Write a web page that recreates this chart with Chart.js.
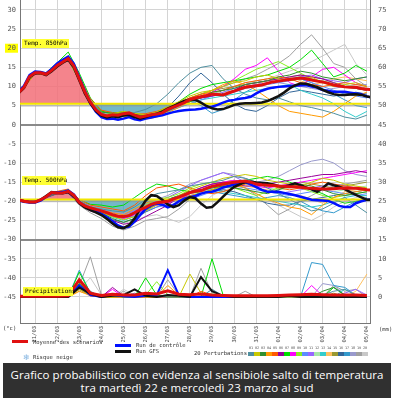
<!DOCTYPE html>
<html>
<head>
<meta charset="utf-8">
<script src="https://cdn.jsdelivr.net/npm/chart.js@4.4.0/dist/chart.umd.min.js"></script>
<style>
  body { margin:0; background:#fff; }
  #wrap { position:relative; width:394px; height:400px; }
  #titolo { position:absolute; left:3px; top:363px; width:388px; height:35px; background:#303030; color:#fff;
    font-family:"Open Sans"; font-size:11.5px; line-height:13px; text-align:center; padding-top:5px; box-sizing:border-box; white-space:nowrap; }
</style>
</head>
<body>
<div id="wrap">
  <canvas id="canvas1" width="394" height="400"></canvas>
  <div id="titolo"><span id="l1">Grafico probabilistico con evidenza al sensibiole salto di temperatura</span><br><span id="l2">tra martedì 22 e mercoledì 23 marzo al sud</span></div>
</div>
<script>
// fechas (eje x, un tick por dia)
var fechas = ["21/03","22/03","23/03","24/03","25/03","26/03","27/03","28/03","29/03","30/03","31/03","01/04","02/04","03/04","04/04","05/04"];
var ticksSx = [30,25,20,15,10,5,0,-5,-10,-15,-20,-25,-30,-35,-40,-45];
var ticksDx = [75,70,65,60,55,50,45,40,35,30,25,20,15,10,5,0];

// series cada 6 h desde 20/03 06z
var mean850 = [8.4,9.8,12.6,13.6,13.6,13.2,14.2,15.5,16.4,17.3,15.4,12.0,8.6,5.9,3.9,2.7,2.3,2.6,2.5,2.9,3.1,2.5,2.0,2.3,2.6,2.8,3.1,4.0,4.6,5.2,5.8,6.6,7.0,7.3,7.6,8.0,7.9,7.8,8.3,8.8,9.3,9.8,10.0,10.2,10.4,10.8,11.2,11.4,11.6,11.8,12.0,12.2,12.0,11.7,11.4,11.2,10.8,10.4,10.1,9.9,9.8,9.8,9.5,9.3,9.1];
var ctrl850 = [8.6,10.2,13.0,13.9,13.8,13.4,14.6,16.0,17.0,17.8,16.0,12.4,8.8,5.6,3.4,2.0,1.5,1.6,1.3,1.6,2.0,1.4,1.2,1.6,1.9,2.2,2.5,2.9,3.3,3.6,3.8,3.9,4.0,4.2,4.5,4.7,5.2,5.8,6.3,6.5,6.8,7.0,7.3,8.2,8.9,9.4,9.7,9.9,10.0,10.1,10.2,10.3,10.4,10.0,9.7,9.1,8.8,8.6,8.6,8.6,8.4,8.2,8.0,7.4,7.0];
var gfs850 = [8.2,9.6,12.4,13.4,13.5,13.0,14.0,15.2,16.2,17.0,15.0,11.6,8.2,5.6,3.6,2.4,1.9,2.2,2.0,2.4,2.6,2.0,1.6,2.0,2.5,2.9,3.4,4.2,4.9,5.6,6.2,6.6,6.5,5.8,4.9,4.3,4.0,4.1,4.6,5.2,5.5,5.6,5.6,5.7,5.8,6.2,6.8,7.5,8.4,9.5,10.3,10.8,10.7,10.3,9.8,9.1,8.5,8.0,7.8,7.8,7.9,8.0,7.8,7.4,7.1];
var mean500 = [-19.6,-20.0,-20.2,-20.2,-19.6,-18.8,-17.7,-17.8,-17.8,-17.4,-18.4,-20.3,-21.2,-21.7,-22.1,-22.5,-23.0,-23.5,-23.9,-24.0,-23.7,-23.0,-22.2,-21.6,-20.8,-20.4,-20.2,-20.0,-19.4,-18.9,-18.3,-17.7,-17.4,-17.2,-16.6,-16.1,-15.8,-15.5,-15.2,-15.0,-14.8,-14.7,-15.0,-15.5,-15.7,-15.8,-15.9,-16.0,-16.1,-16.2,-16.2,-16.3,-16.5,-16.6,-16.7,-16.8,-16.8,-16.7,-16.6,-16.6,-16.6,-16.6,-16.7,-17.0,-17.1];
var ctrl500 = [-19.7,-20.1,-20.3,-20.3,-19.8,-18.9,-17.8,-17.7,-17.6,-17.2,-18.2,-20.2,-21.4,-22.0,-22.6,-23.3,-24.2,-25.2,-26.3,-26.9,-26.6,-25.3,-23.6,-22.0,-21.0,-20.6,-20.9,-21.6,-21.0,-20.0,-19.3,-18.9,-18.6,-18.0,-17.6,-17.5,-17.0,-16.4,-16.0,-15.6,-15.2,-15.0,-15.6,-16.3,-17.0,-17.5,-17.5,-17.5,-17.8,-18.1,-18.4,-18.8,-19.2,-19.6,-19.7,-19.8,-19.9,-20.5,-21.2,-21.5,-21.5,-20.5,-20.0,-19.6,-19.5];
var gfs500 = [-19.6,-20.0,-20.2,-20.2,-19.6,-18.6,-17.6,-17.8,-17.9,-17.6,-18.6,-20.5,-21.6,-22.3,-22.9,-23.6,-24.6,-25.8,-26.8,-27.0,-26.2,-24.5,-22.0,-19.8,-18.4,-18.6,-19.6,-20.8,-21.5,-21.0,-19.8,-18.9,-19.2,-20.6,-21.7,-21.5,-20.2,-18.8,-17.4,-16.2,-15.6,-15.0,-14.9,-15.1,-15.2,-15.3,-15.6,-16.0,-16.2,-15.8,-15.3,-15.8,-16.4,-16.9,-17.5,-16.5,-15.3,-15.8,-16.2,-16.8,-17.6,-18.3,-19.0,-19.6,-19.6];

// series cada 12 h desde 20/03 00z (mm)
var meanPr = [0.2,0.2,0.2,0.2,0.2,0.3,4.5,1.0,0.4,0.7,0.5,0.5,1.0,0.8,1.6,0.7,0.6,0.8,0.5,0.4,0.3,0.3,0.3,0.3,0.4,0.5,0.6,0.7,0.6,0.5,0.5,0.5,0.4];
var ctrlPr = [0,0,0,0,0,0,3.0,0.5,0,0.5,0.2,0,0.3,0.5,7.0,0.5,0,0,0,0,0,0,0,0,0.3,0.5,0.2,0,0,0.2,0,0,0];
var gfsPr = [0,0,0,0,0,0,2.5,0.8,0,0.3,0.5,2.0,0.3,0,0.5,0.3,0,5.2,1.5,0.3,0,0,0,0,0,0.3,0,0,0,0,0,0,0];

var pert850 = [
  [7.6,10.0,13.9,13.5,15.9,17.9,12.8,6.5,3.0,2.1,2.5,3.2,4.0,5.5,8.0,11.0,13.5,15.0,15.5,12.0,9.5,8.0,7.0,6.5,7.0,6.0,5.0,4.5,3.8,3.0,2.0,1.5,2.5],
  [7.4,9.7,13.5,13.0,15.4,17.0,11.6,5.7,2.5,2.9,3.5,3.0,2.6,3.3,4.8,6.0,7.5,8.5,9.0,10.0,11.0,11.5,12.5,13.0,12.0,11.5,12.0,12.5,11.0,10.0,10.5,11.0,10.0],
  [7.6,9.9,13.7,13.3,15.6,17.2,12.2,6.2,3.3,3.0,3.4,2.8,2.0,2.4,3.6,5.0,6.0,7.0,8.5,9.0,9.5,10.5,11.0,11.5,12.5,13.0,14.0,13.5,12.5,12.0,11.5,12.0,12.5],
  [7.5,9.8,13.6,13.1,15.3,17.1,11.8,5.5,2.2,2.4,2.2,1.8,1.5,2.0,3.2,4.5,6.0,7.5,9.0,10.5,11.5,10.5,9.0,7.0,5.0,3.5,3.0,2.5,2.0,3.5,5.5,7.5,8.5],
  [7.3,9.6,13.4,13.0,15.3,17.5,12.5,6.8,3.8,3.2,3.0,2.7,2.9,3.5,4.5,5.8,7.0,8.0,8.5,9.0,10.0,11.0,11.5,12.0,12.5,12.0,11.0,10.5,10.0,10.5,11.0,10.5,10.0],
  [7.5,9.9,13.8,13.4,15.7,17.6,12.4,6.0,2.6,2.4,2.9,2.4,2.2,2.7,3.8,4.9,6.2,7.0,7.5,8.0,9.0,10.5,11.0,11.5,12.0,12.5,13.0,12.5,12.0,11.0,10.0,9.5,9.0],
  [7.7,10.1,14.0,13.6,16.2,19.0,13.5,7.0,3.6,2.8,3.0,2.6,2.4,3.0,4.5,6.0,8.0,9.5,10.5,11.0,11.5,12.0,12.5,13.0,14.0,15.0,17.0,19.5,16.0,12.5,13.5,15.5,14.0],
  [7.5,9.8,13.6,13.2,15.5,17.4,12.1,5.8,2.4,2.2,2.7,2.3,2.0,2.5,3.7,5.0,6.5,7.5,8.5,10.0,12.0,14.5,15.5,17.5,14.0,11.0,10.0,12.5,14.5,15.0,13.0,11.0,10.0],
  [7.6,9.9,13.7,13.4,15.8,17.8,12.9,6.9,3.5,3.1,3.3,2.9,2.7,3.2,4.4,5.6,7.0,8.0,9.0,10.0,11.5,13.0,14.5,15.5,16.5,15.0,13.5,12.0,11.0,10.5,10.0,9.5,9.0],
  [7.4,9.7,13.5,13.1,15.4,17.2,11.9,5.6,2.3,2.1,2.5,2.1,1.9,2.5,3.5,4.6,5.5,6.5,7.5,8.0,8.5,9.5,10.0,10.5,11.0,11.5,12.0,11.0,10.0,9.0,8.0,7.5,7.0],
  [7.5,9.9,13.7,13.3,15.6,17.3,12.2,6.0,2.8,2.7,3.0,2.6,2.4,2.9,4.2,5.3,6.5,7.0,7.5,8.5,9.5,10.0,10.5,11.0,11.5,12.0,12.5,13.0,12.0,11.5,11.0,12.0,12.5],
  [7.6,10.0,13.8,13.4,15.7,17.5,12.4,6.3,3.1,2.9,3.2,2.8,2.5,3.0,4.1,5.3,6.5,7.5,8.0,8.5,9.5,10.5,11.5,12.0,12.0,12.5,12.5,12.0,11.5,11.0,10.5,10.0,9.5],
  [7.4,9.7,13.5,13.0,15.3,17.0,11.5,5.3,2.0,1.9,2.3,2.0,1.8,2.3,3.4,4.5,5.5,6.5,7.0,7.5,8.0,8.5,9.0,9.5,10.0,10.5,9.0,8.0,7.0,5.5,3.5,2.0,3.5],
  [7.5,9.8,13.6,13.2,15.5,17.3,12.0,5.9,2.7,2.6,2.9,2.5,2.3,2.8,4.0,5.2,6.5,7.5,8.0,8.5,9.0,10.0,10.5,11.5,12.0,12.5,11.5,10.5,11.0,12.0,12.5,12.0,11.5],
  [7.7,10.1,13.9,13.5,15.9,17.7,12.6,6.4,3.2,2.8,3.1,2.7,2.5,3.1,4.3,5.6,7.0,8.0,9.0,9.5,10.0,10.5,11.0,11.5,12.0,12.5,13.0,12.5,12.0,11.0,10.0,9.5,9.0],
  [7.5,9.8,13.6,13.2,15.4,17.1,11.8,5.7,2.5,2.3,2.6,2.2,2.0,2.6,4.5,7.5,11.0,13.5,11.0,8.0,5.5,4.0,3.5,5.0,7.0,8.5,9.0,8.5,8.0,7.5,8.0,8.5,8.0],
  [7.4,9.7,13.5,13.1,15.5,17.3,12.1,6.1,2.9,2.7,3.0,2.6,2.3,2.9,4.1,5.4,6.5,5.0,3.0,4.0,6.5,8.5,10.0,11.0,11.5,12.0,12.0,11.0,9.5,8.0,6.5,5.0,4.5],
  [7.6,9.9,13.7,13.3,15.6,17.4,12.2,6.0,2.6,2.5,2.8,2.4,2.2,2.7,3.9,5.1,6.0,7.0,8.0,9.0,10.0,10.5,11.0,11.5,11.0,10.5,10.0,9.5,9.0,9.5,10.0,10.5,10.5],
  [7.5,9.8,13.6,13.2,15.6,17.5,12.3,6.2,2.9,2.8,3.1,2.7,2.5,3.0,4.2,5.4,7.0,8.0,9.0,10.0,11.0,12.0,13.0,14.5,16.0,18.0,21.0,23.5,20.0,16.0,15.0,12.0,10.0],
  [7.5,9.8,13.6,13.2,15.5,17.2,12.0,5.8,2.6,2.5,2.8,2.4,2.2,2.7,3.9,5.1,6.5,7.5,8.5,9.0,10.0,11.0,11.5,12.0,13.0,14.0,15.0,16.5,18.0,19.5,21.0,16.0,13.0]
];

var pert500 = [
  [-19.4,-20.0,-20.3,-18.9,-17.6,-17.0,-19.8,-21.5,-22.0,-22.5,-22.8,-21.5,-19.5,-18.0,-17.5,-17.0,-16.0,-15.5,-15.0,-14.5,-13.5,-14.0,-15.0,-16.5,-18.0,-19.5,-21.0,-22.5,-22.0,-20.5,-19.0,-21.0,-23.0],
  [-19.5,-20.1,-20.2,-18.7,-17.5,-17.2,-20.0,-21.8,-22.8,-24.0,-24.8,-24.0,-22.5,-21.0,-20.0,-18.5,-17.0,-16.0,-15.0,-14.0,-13.5,-13.0,-13.5,-14.5,-15.0,-15.5,-16.0,-15.0,-14.0,-14.5,-15.5,-16.0,-16.5],
  [-19.3,-19.9,-20.1,-18.8,-17.9,-17.6,-20.6,-22.0,-23.0,-24.5,-25.5,-24.5,-22.5,-20.5,-19.5,-18.5,-17.5,-17.0,-16.5,-16.0,-16.5,-17.0,-17.5,-18.0,-17.0,-16.0,-15.5,-16.0,-17.0,-18.0,-18.5,-18.0,-17.5],
  [-19.4,-20.0,-20.2,-18.9,-17.8,-17.5,-20.4,-21.6,-22.3,-23.0,-23.5,-22.0,-20.5,-19.5,-20.0,-19.5,-18.5,-18.0,-17.0,-16.0,-15.5,-16.5,-18.0,-19.5,-20.5,-21.5,-22.0,-23.5,-21.0,-19.0,-18.0,-17.5,-17.0],
  [-19.5,-20.0,-20.2,-18.6,-17.4,-16.8,-19.5,-21.0,-21.5,-22.0,-22.5,-21.0,-18.5,-16.5,-16.0,-15.5,-16.5,-17.5,-18.0,-17.5,-16.5,-15.5,-15.0,-15.5,-16.5,-17.0,-16.5,-15.5,-15.0,-15.5,-16.0,-16.5,-17.0],
  [-19.4,-20.0,-20.3,-19.0,-18.0,-17.8,-20.8,-22.5,-23.5,-25.0,-26.0,-25.5,-24.0,-22.5,-21.0,-19.0,-17.5,-16.5,-15.5,-15.0,-15.5,-16.0,-16.0,-15.5,-15.0,-14.5,-14.0,-13.5,-13.0,-13.0,-12.5,-12.0,-12.5],
  [-19.3,-19.9,-20.1,-18.7,-17.6,-17.0,-19.6,-20.8,-21.0,-21.5,-21.0,-19.0,-17.0,-15.5,-16.0,-17.0,-17.5,-18.0,-17.0,-16.0,-15.0,-14.5,-14.0,-13.5,-14.0,-15.0,-16.0,-17.0,-18.0,-19.5,-20.5,-20.0,-19.5],
  [-19.4,-20.0,-20.2,-18.8,-17.7,-17.3,-20.2,-21.7,-22.6,-23.8,-24.5,-23.5,-22.0,-21.0,-20.5,-19.5,-18.0,-16.5,-15.5,-15.0,-14.5,-15.0,-16.0,-16.5,-16.0,-15.5,-15.0,-14.5,-14.0,-13.5,-13.0,-12.5,-12.0],
  [-19.5,-20.1,-20.3,-19.0,-17.9,-17.6,-20.5,-22.0,-22.8,-24.0,-24.5,-23.0,-21.0,-19.5,-19.0,-18.0,-16.5,-15.5,-15.0,-15.5,-16.5,-17.5,-18.5,-17.5,-16.5,-16.0,-16.5,-17.5,-18.5,-19.0,-18.5,-18.0,-17.5],
  [-19.4,-20.0,-20.2,-18.8,-17.8,-17.4,-20.3,-21.8,-22.7,-23.8,-24.5,-23.8,-22.5,-21.5,-21.0,-20.5,-19.5,-18.5,-17.5,-16.5,-16.0,-16.5,-17.0,-17.5,-18.0,-18.5,-18.0,-17.5,-17.0,-17.5,-18.0,-18.5,-18.0],
  [-19.3,-19.9,-20.2,-18.8,-17.7,-17.2,-20.0,-21.5,-22.2,-23.0,-23.5,-22.5,-21.0,-20.0,-19.0,-17.5,-16.0,-14.5,-13.5,-12.5,-13.5,-15.0,-16.5,-17.5,-18.0,-17.5,-17.0,-16.5,-16.0,-15.5,-16.0,-16.5,-17.0],
  [-19.4,-20.0,-20.2,-18.9,-17.8,-17.4,-20.2,-21.6,-22.4,-23.4,-23.8,-22.8,-21.5,-20.5,-20.0,-19.0,-17.5,-16.5,-16.0,-15.5,-15.0,-15.5,-16.0,-16.5,-17.0,-16.5,-16.0,-16.5,-17.0,-17.5,-17.0,-16.5,-16.0],
  [-19.5,-20.1,-20.3,-18.9,-17.9,-17.5,-20.4,-21.9,-22.9,-24.2,-25.0,-24.0,-22.0,-20.5,-19.5,-18.5,-17.5,-17.0,-17.0,-17.5,-18.0,-18.5,-19.0,-19.5,-20.0,-20.5,-21.0,-21.5,-21.0,-20.0,-19.0,-18.5,-18.5],
  [-19.4,-20.0,-20.2,-18.8,-17.7,-17.3,-20.1,-21.6,-22.4,-23.3,-23.8,-22.8,-21.3,-20.2,-19.8,-19.0,-18.0,-17.5,-17.0,-16.5,-16.0,-16.0,-16.5,-17.0,-17.5,-18.0,-18.5,-19.5,-20.5,-19.0,-17.5,-17.0,-16.5],
  [-19.4,-20.0,-20.2,-18.8,-17.8,-17.4,-20.3,-21.7,-22.5,-23.5,-24.0,-23.0,-21.5,-20.5,-20.0,-19.0,-17.5,-16.5,-15.5,-15.0,-14.5,-15.0,-15.5,-16.0,-16.0,-15.5,-15.0,-15.5,-16.0,-16.5,-16.0,-15.5,-15.0],
  [-19.5,-20.1,-20.3,-19.0,-18.0,-17.7,-20.7,-22.3,-23.3,-24.8,-25.5,-24.5,-22.8,-21.5,-20.5,-19.5,-18.5,-18.0,-17.5,-17.0,-17.5,-18.5,-19.5,-20.5,-21.0,-21.0,-20.0,-19.5,-19.0,-18.5,-18.0,-17.5,-17.0],
  [-19.4,-20.0,-20.2,-18.8,-17.8,-17.4,-20.3,-21.8,-22.7,-23.8,-24.3,-23.5,-22.0,-21.0,-20.5,-19.5,-18.0,-17.5,-17.5,-18.0,-18.5,-19.0,-19.5,-19.0,-18.5,-19.0,-20.0,-21.5,-22.5,-23.0,-21.5,-20.0,-19.0],
  [-19.3,-19.9,-20.1,-18.7,-17.6,-17.1,-19.9,-21.3,-22.0,-22.8,-23.2,-22.2,-20.8,-19.5,-18.5,-17.0,-15.5,-14.5,-13.5,-12.5,-13.0,-14.0,-15.0,-14.5,-13.5,-12.0,-10.5,-9.5,-9.0,-10.0,-12.0,-13.0,-13.5],
  [-19.5,-20.1,-20.3,-19.1,-18.2,-18.0,-21.0,-23.0,-24.5,-26.5,-27.5,-26.5,-25.0,-24.5,-24.0,-22.0,-19.5,-17.5,-16.5,-16.0,-15.5,-16.5,-18.5,-21.0,-23.5,-22.0,-20.0,-18.5,-17.0,-16.0,-15.5,-15.0,-14.5],
  [-19.4,-20.0,-20.2,-18.9,-17.9,-17.6,-20.6,-22.2,-23.4,-25.0,-25.8,-25.0,-24.0,-23.5,-24.5,-25.5,-24.0,-21.0,-18.5,-17.0,-16.5,-17.0,-18.0,-19.5,-21.0,-22.5,-24.0,-25.0,-23.5,-21.5,-20.0,-19.0,-18.5]
];

var pertPr = [
  [0,0,0,0,0,0,4.5,1.5,0,0.5,0,0,0.5,0.3,0,0,0,0,2.0,0.3,0,0,0,0,0,0,0,0,0.5,1.5,2.0,0.5,0],
  [0,0,0,0,0,0,2.0,0.5,0,0,0.3,0,0,0,0,0,6.0,1.0,0,0,0,0,0,0,0,0,0,0,0,0,0,0,0],
  [0,0,0,0,0,0,3.5,0.8,0,0.5,0,0,1.0,0.5,0,0,0,0,0,0,0,0,0,0,0,0,0,0,1.5,2.5,0.5,0,0],
  [0,0,0,0,0,0,1.5,0.5,0,0,0,0.5,0,0,3.0,0.5,0,0,0,0,0,0,0,0,0,0,0,0,0,0,0,0,0],
  [0,0,0,0,0,0,2.5,0.3,0,0,0,0,0,0,0.5,0,0,1.5,0.5,0,0,0,0,0,0,0,0,0,0,0,0,0,0],
  [0,0,0,0,0,0,3.0,0.5,0,2.5,0.3,0,0,0,0,0,0,0,0,0,0,0,0,0,0,0,0,0.5,0,0,0,0,0],
  [0,0,0,0,0,0,6.5,1.0,0,0.5,0,0,5.0,0.5,0,0,0,0,10.0,0.5,0,0,0,0,0,0,0,0,0,2.5,0.5,0,0],
  [0,0,0,0,0,0,2.5,0.5,0,2.0,0,0,0,0,0,0,0,0,0,0,0,0,0,0,0,0,0,3.0,0.3,0,0,0,0],
  [0,0,0,0,0,0,4.0,0.5,0,0,0,0,0.5,4.0,0.5,0,0,0,0.5,0,0,0,0,0,0,0,0,0,0,0,0,0,0],
  [0,0,0,0,0,0,3.0,0.5,0,0,0,1.0,0,0,0,0,0,0,0,0,0,0,0,0,0,0,0.5,0,0,0,0,0,0],
  [0,0,0,0,0,0,2.0,0.3,0,0,0,0,0,0,0,0,0,0,0,0,0,0,0,0,0,0,0,0,0,0,1.0,2.0,0.5],
  [0,0,0,0,0,0,3.0,0.5,0,0,0,0,0,0,0,0,0,0,1.0,0,0,0,0,0,0,0,0,0,0,0,0,0,0],
  [0,0,0,0,0,0,2.5,0.5,0,0,0,0,0,0,0,0,0,0,0,0,0,0,0,0,0,0,0,0,0,0,2.0,0.5,0],
  [0,0,0,0,0,0,1.5,0.3,0,0,0,0,0,0,0,0,0,0,0,0,0,0,0,0,0,0,0,0,0,0,0,1.5,6.0],
  [0,0,0,0,0,0,2.0,0.3,0,0,0,0,0,0,0,0,0,0,0,0,0,0,0,0,0,0,0,0,0,1.0,0,0,0],
  [0,0,0,0,0,0,3.5,0.5,0,0,0,0,0,0,0,0,0,0,0,0,0,0,0,0,0,0,0,0,0,0,0,0,0],
  [0,0,0,0,0,0,7.0,1.0,0,0,0,0,0,0,0,0,0,0,0,0,0,0,0,0,0,0,0,9.0,8.5,3.0,2.5,0.5,0],
  [0,0,0,0,0,0,2.0,0.5,0,0,0,0,0,0,0,0,0,0,0.5,0,0,0,0,0,0,0,0,0,3.5,3.0,0.5,0,0],
  [0,0,0,0,0,0,3.0,10.5,0.5,0,1.5,0,0,0,4.5,0.5,0,7.5,1.0,0,0,1.5,0,0,0,0,0,0,0,3.0,1.5,2.0,0],
  [0,0,0,0,0,0,2.0,5.0,0.5,0,2.0,0.5,0,0.5,0,0,0,0,2.0,0,0,0,0,0,0,0,0,0,0,2.5,0.5,0,0]
];

// valores de referencia (linea amarilla)
var ref850 = 5.5;
var ref500 = -19.5;

const coloresPert = ['#4f8f9f','#c8c800','#2f8f2f','#ff9a00','#ff5a00','#990099','#00dd00','#ff00ff','#88ee22','#5c8cff',
                     '#9966ff','#a8e8a8','#33cccc','#ffc060','#999933','#336699','#3399cc','#9999cc','#a0a0a0','#c8c8c8'];

function puntos(arr, t0, paso) {
  return arr.map(function(v, i) { return {x: t0 + i * paso, y: v}; });
}
function linea(arr, t0, paso, color, ancho, orden, eje) {
  return { data: puntos(arr, t0, paso), borderColor: color, borderWidth: ancho, pointRadius: 0,
           fill: false, tension: 0, order: orden, yAxisID: eje || 'y' };
}
function relleno(arr, corte, ref) {
  return { data: puntos(arr.slice(0, corte), -0.75, 0.25), borderWidth: 0, pointRadius: 0, order: 20,
           fill: { target: { value: ref }, above: 'rgba(242,110,120,0.85)', below: 'rgba(70,160,182,0.75)' } };
}
function refLinea(v, color, ancho, orden) {
  return { data: [{x: -1, y: v}, {x: 16, y: v}], borderColor: color, borderWidth: ancho, pointRadius: 0, order: orden };
}

var datasets = [];
datasets.push(linea(mean850, -0.75, 0.25, '#e01010', 3, 0));
datasets.push(linea(gfs850, -0.75, 0.25, '#111111', 2.5, 1));
datasets.push(linea(ctrl850, -0.75, 0.25, '#0010ff', 2.5, 2));
datasets.push(linea(mean500, -0.75, 0.25, '#e01010', 3, 0));
datasets.push(linea(gfs500, -0.75, 0.25, '#111111', 2.5, 1));
datasets.push(linea(ctrl500, -0.75, 0.25, '#0010ff', 2.5, 2));
datasets.push(linea(meanPr, -1, 0.5, '#e01010', 3, 0, 'y2'));
datasets.push(linea(gfsPr, -1, 0.5, '#111111', 2, 1, 'y2'));
datasets.push(linea(ctrlPr, -1, 0.5, '#0010ff', 2, 2, 'y2'));
datasets.push(refLinea(ref850, '#f2e600', 2, 3));
datasets.push(refLinea(ref850 - 0.5, 'rgba(150,150,150,0.45)', 2, 4));
datasets.push(refLinea(ref500, '#f2e600', 2, 3));
datasets.push(refLinea(ref500 - 0.5, 'rgba(150,150,150,0.45)', 2, 4));
for (var i = 0; i < 20; i++) {
  datasets.push(linea(pert850[i], -1, 0.5, coloresPert[i], 1, 5));
  datasets.push(linea(pert500[i], -1, 0.5, coloresPert[i], 1, 5));
  datasets.push(linea(pertPr[i], -1, 0.5, coloresPert[i], 1, 5, 'y2'));
}
datasets.push(relleno(mean850, 30, ref850));
datasets.push(relleno(mean500, 29, ref500));

var yMin = -51.8, yMax = 32.6;

// etiquetas, leyenda y cajas amarillas
var decor = {
  id: 'decor',
  beforeDraw: function(chart) {
    var ctx = chart.ctx;
    var y20 = chart.scales.y.getPixelForValue(20);
    ctx.save();
    ctx.fillStyle = '#ffff00';
    ctx.fillRect(5, y20 - 4.5, 13, 9);
    ctx.restore();
  },
  afterDraw: function(chart) {
    var ctx = chart.ctx;
    ctx.save();
    function caja(txt, x, y, w) {
      ctx.fillStyle = '#ffff33';
      ctx.fillRect(x, y, w, 9);
      ctx.fillStyle = '#000';
      ctx.font = '6px "DejaVu Sans Mono"';
      ctx.textBaseline = 'middle';
      ctx.textAlign = 'left';
      ctx.fillText(txt, x + 2, y + 4.8);
    }
    caja('Temp. 850hPa', 22, 39, 47);
    caja('Temp. 500hPa', 22, 176, 44);
    caja('Précipitations', 23, 287, 50);

    ctx.font = '5.5px "DejaVu Sans Mono"';
    ctx.fillStyle = '#333';
    ctx.textBaseline = 'middle';
    ctx.fillText('(°c)', 3, 329);
    ctx.fillText('(mm)', 379, 330);

    ctx.fillStyle = '#e01010'; ctx.fillRect(12, 340, 16, 3);
    ctx.fillStyle = '#0010ff'; ctx.fillRect(115, 344, 16, 3);
    ctx.fillStyle = '#111';    ctx.fillRect(115, 350, 16, 3);
    ctx.fillStyle = '#333';
    ctx.fillText('Moyenne des scénarios', 33, 343);
    ctx.fillText('Run de contrôle', 136, 346);
    ctx.fillText('Run GFS', 136, 352);
    ctx.fillText('20 Perturbations', 194, 354);
    ctx.fillText('Risque neige', 33, 358);
    ctx.fillStyle = '#7fb2e0';
    ctx.font = '8px "DejaVu Sans"';
    ctx.fillText('\u2744', 23, 358);

    for (var k = 0; k < 20; k++) {
      ctx.fillStyle = coloresPert[k];
      ctx.fillRect(248 + k * 6, 352, 6, 4);
      ctx.fillStyle = '#555';
      ctx.font = '3.5px "DejaVu Sans Mono"';
      ctx.textAlign = 'center';
      ctx.fillText((k < 9 ? '0' : '') + (k + 1), 251 + k * 6, 348.5);
    }
    ctx.restore();
  }
};

var canvas1 = document.getElementById('canvas1');
var myChart = new Chart(canvas1, {
  type: 'line',
  data: { datasets: datasets },
  plugins: [decor],
  options: {
    responsive: false,
    animation: false,
    devicePixelRatio: 1,
    layout: { padding: { left: 0, right: 0, top: 0, bottom: 38 } },
    plugins: { legend: { display: false }, tooltip: { enabled: false } },
    scales: {
      x: {
        type: 'linear', min: -0.68, max: 15.14,
        afterBuildTicks: function(s) { s.ticks = fechas.map(function(f, i) { return {value: i}; }); },
        afterFit: function(s) { s.height = 39; s.paddingLeft = 0; s.paddingRight = 0; },
        ticks: { autoSkip: false, minRotation: 90, maxRotation: 90, padding: 3, color: '#444',
                 font: { family: 'DejaVu Sans Mono', size: 5.5 },
                 callback: function(v) { return fechas[v]; } },
        grid: { color: '#d4d4d4', drawTicks: false },
        border: { color: '#777' }
      },
      y: {
        position: 'left', min: yMin, max: yMax,
        afterBuildTicks: function(s) { s.ticks = ticksSx.map(function(v) { return {value: v}; }); },
        afterFit: function(s) { s.width = 20; s.paddingTop = 0; s.paddingBottom = 0; },
        ticks: { padding: 4, color: '#555', font: { family: 'DejaVu Sans Mono', size: 7 } },
        grid: { drawTicks: false,
                color: function(c) { return (c.tick && (c.tick.value === 0 || c.tick.value === -30)) ? '#8a8a8a' : '#d4d4d4'; },
                lineWidth: function(c) { return (c.tick && (c.tick.value === 0 || c.tick.value === -30)) ? 2 : 1; } },
        border: { color: '#777' }
      },
      y2: {
        position: 'right', min: yMin + 45, max: yMax + 45,
        afterBuildTicks: function(s) { s.ticks = ticksDx.map(function(v) { return {value: v}; }); },
        afterFit: function(s) { s.width = 24; s.paddingTop = 0; s.paddingBottom = 0; },
        ticks: { padding: 8, color: '#555', font: { family: 'DejaVu Sans Mono', size: 7 } },
        grid: { display: false, drawTicks: false },
        border: { color: '#777' }
      }
    }
  }
});

// ajusta el espaciado del titulo al ancho del original
var medida = document.createElement('canvas').getContext('2d');
medida.font = '11.5px "Open Sans"';
var l1 = document.getElementById('l1').textContent;
var ancho = medida.measureText(l1).width;
document.getElementById('titolo').style.letterSpacing = ((373 - ancho) / l1.length) + 'px';
</script>
</body>
</html>
